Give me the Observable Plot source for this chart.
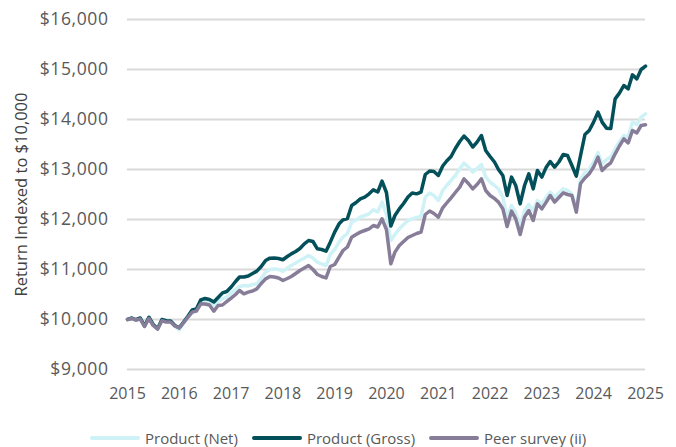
<!DOCTYPE html>
<html>
<head>
<meta charset="utf-8">
<script src="https://cdn.jsdelivr.net/npm/d3@7"></script>
<script src="https://cdn.jsdelivr.net/npm/@observablehq/plot@0.6"></script>
<style>
  body { margin: 0; background: #fff; font-family: "Open Sans", sans-serif; }
  #wrap { width: 676px; }
  .legend { display: flex; justify-content: flex-start; align-items: center; height: 20px; margin-top: 8px; padding-left: 90px; color: #595959; font-size: 15px; }
  .legend .item { display: flex; align-items: center; margin-right: 14px; }
  .legend .sw { width: 50px; height: 4px; border-radius: 2px; margin-right: 5px; }
</style>
</head>
<body>
<div id="wrap"></div>
<script>
// Monthly values, starting January 2015 (index = months since Jan 2015)
const startYear = 2015;
const seriesNames = ["Product (Net)", "Product (Gross)", "Peer survey (ii)"];
const seriesColors = ["#cff2f7", "#03505a", "#877d99"];
const yTicks = [9000, 10000, 11000, 12000, 13000, 14000, 15000, 16000];
const xTickYears = [2015, 2016, 2017, 2018, 2019, 2020, 2021, 2022, 2023, 2024, 2025];

const net = [10000,10025,9990,10020,9860,10035,9890,9805,9990,9960,9955,9860,
  9790,9920,10030,10150,10180,10340,10360,10340,10287,10360,10413,10450,
  10527,10600,10660,10680,10670,10700,10713,10820,10947,11000,11010,11000,
  10960,11030,11080,11130,11180,11230,11280,11230,11147,11110,11080,11300,
  11400,11547,11650,11720,11947,11990,12047,12080,12113,12193,12150,12347,
  12100,11580,11700,11813,11900,11980,12013,12040,12060,12450,12530,12480,
  12380,12580,12680,12780,12880,13013,13127,13050,12947,13020,13100,12847,
  12747,12680,12613,12447,12047,12280,12147,11813,12180,12300,12180,12380,
  12300,12447,12547,12447,12530,12613,12580,12513,12213,12800,12947,13000,
  13150,13340,13113,13200,13247,13413,13560,13680,13650,13947,13900,14047,
  14113];

const gross = [10000,10030,9995,10030,9870,10045,9900,9815,10000,9975,9970,9880,
  9835,9950,10060,10190,10210,10393,10420,10400,10350,10440,10533,10560,
  10650,10760,10850,10850,10870,10920,10967,11060,11180,11227,11230,11220,
  11195,11260,11313,11360,11420,11513,11580,11560,11413,11400,11367,11547,
  11747,11913,11993,12020,12280,12340,12413,12447,12513,12593,12550,12767,
  12540,11870,12080,12213,12320,12450,12530,12513,12547,12900,12970,12960,
  12880,13070,13170,13260,13420,13560,13670,13580,13450,13547,13680,13380,
  13260,13150,13000,12880,12480,12847,12680,12313,12680,12913,12613,12980,
  12847,13047,13160,13047,13150,13300,13280,13080,12867,13280,13700,13780,
  13947,14147,13947,13827,13820,14413,14527,14680,14613,14893,14813,15000,
  15067];

const peer = [10000,10020,9990,10010,9860,10020,9880,9810,9975,9950,9950,9870,
  9830,9940,10040,10147,10170,10313,10310,10290,10167,10280,10290,10360,
  10427,10500,10580,10513,10547,10570,10613,10720,10813,10860,10850,10830,
  10780,10820,10860,10920,10980,11030,11080,11000,10900,10860,10833,11060,
  11100,11247,11380,11450,11647,11700,11747,11780,11813,11880,11850,12013,
  11800,11113,11347,11480,11560,11640,11680,11720,11747,12100,12170,12120,
  12047,12233,12330,12433,12540,12647,12813,12720,12613,12700,12813,12580,
  12480,12420,12347,12213,11860,12167,12013,11700,12047,12180,11980,12313,
  12213,12347,12480,12347,12440,12533,12500,12480,12147,12720,12830,12913,
  13050,13247,12980,13070,13133,13313,13470,13613,13533,13780,13733,13880,
  13893];

const allSeries = [net, gross, peer];
const rows = [];
allSeries.forEach((vals, si) => {
  vals.forEach((v, m) => rows.push({series: seriesNames[si], date: new Date(Date.UTC(startYear, m, 1)), value: v}));
});

const xTickDates = xTickYears.map(y => new Date(Date.UTC(y, 0, 1)));

const chart = Plot.plot({
  width: 676,
  height: 420,
  marginLeft: 127,
  marginRight: 31,
  marginTop: 19,
  marginBottom: 51,
  style: {fontFamily: "Open Sans, sans-serif", background: "#fff"},
  x: {
    type: "utc",
    domain: [xTickDates[0], xTickDates[xTickDates.length - 1]],
    label: null
  },
  y: {
    domain: [yTicks[0], yTicks[yTicks.length - 1]],
    label: null
  },
  color: {domain: seriesNames, range: seriesColors},
  marks: [
    Plot.gridY(yTicks, {stroke: "#d9d9d9", strokeOpacity: 1, strokeWidth: 2}),
    Plot.axisY({ticks: yTicks, tickFormat: d3.format("$,"), tickSize: 0, tickPadding: 19, fontSize: 17.5, fill: "#595959", label: null}),
    Plot.axisX({ticks: xTickDates, tickFormat: d3.utcFormat("%Y"), tickSize: 0, tickPadding: 18, fontSize: 16, fill: "#595959", label: null}),
    Plot.lineY(rows, {x: "date", y: "value", stroke: "series", z: "series", strokeWidth: 3.5, strokeLinejoin: "round", strokeLinecap: "round"}),
    Plot.text(["Return Indexed to $10,000"], {frameAnchor: "left", textAnchor: "middle", dx: -106, rotate: -90, fontSize: 16.5, fill: "#404040"})
  ]
});

chart.querySelectorAll('g[aria-label="y-axis tick label"] text').forEach(t => t.setAttribute("letter-spacing", "0.6"));

const wrap = document.getElementById("wrap");
wrap.appendChild(chart);

const legend = document.createElement("div");
legend.className = "legend";
seriesNames.forEach((name, i) => {
  const item = document.createElement("div");
  item.className = "item";
  const sw = document.createElement("span");
  sw.className = "sw";
  sw.style.background = seriesColors[i];
  const label = document.createElement("span");
  label.textContent = name;
  item.appendChild(sw);
  item.appendChild(label);
  legend.appendChild(item);
});
wrap.appendChild(legend);
</script>
</body>
</html>
